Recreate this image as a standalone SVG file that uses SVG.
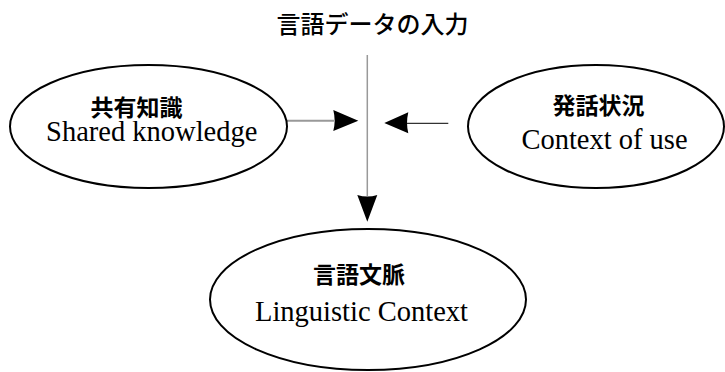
<svg xmlns="http://www.w3.org/2000/svg" width="725" height="372" viewBox="0 0 725 372">
<style>
.bg{fill:#fff}
.node{fill:#fff;stroke:#000;stroke-width:2}
.jp{font-family:"Noto Sans CJK JP","Noto Sans",sans-serif;font-size:23px;font-weight:bold;fill:#000;text-anchor:middle}
.title{font-family:"Noto Sans CJK JP","Noto Sans",sans-serif;font-size:24px;font-weight:500;fill:#000;text-anchor:middle}
.en{font-family:"Liberation Serif","Times New Roman",serif;font-size:28.5px;fill:#000;text-anchor:middle}
.head{fill:#000;stroke:none}
</style>
<rect class="bg" x="0" y="0" width="725" height="372"/>
<g id="title">
<text class="title" x="372.5" y="33">言語データの入力</text>
</g>
<g id="connectors">
<line x1="367.3" y1="55" x2="367.3" y2="196" stroke="#999" stroke-width="1.5"/>
<path class="head" d="M357.3,195 L377.3,195 L367.3,221.7 Z M357.3,195 Q367.3,198 377.3,195"/>
<line x1="287" y1="120.7" x2="334" y2="120.7" stroke="#999" stroke-width="2"/>
<path class="head" d="M333.3,110 L358.3,120.7 L333.3,131 Q336,120.7 333.3,110 Z"/>
<line x1="407" y1="123.3" x2="448.3" y2="123.3" stroke="#000" stroke-width="1"/>
<path class="head" d="M408.3,112.3 L384.3,123 L408.3,133.3 Q405.8,123 408.3,112.3 Z"/>
</g>
<g id="shared-knowledge">
<ellipse class="node" cx="148.5" cy="126.5" rx="138.5" ry="61.5"/>
<text class="jp" x="136.5" y="115.5">共有知識</text>
<text class="en" x="151.7" y="140.7">Shared knowledge</text>
</g>
<g id="context-of-use">
<ellipse class="node" cx="596" cy="126.5" rx="128" ry="61.5"/>
<text class="jp" x="598.5" y="114">発話状況</text>
<text class="en" x="604.5" y="149">Context of use</text>
</g>
<g id="linguistic-context">
<ellipse class="node" cx="368" cy="299.5" rx="158" ry="70.5"/>
<text class="jp" x="359" y="283">言語文脈</text>
<text class="en" x="361.5" y="321">Linguistic Context</text>
</g>
</svg>
